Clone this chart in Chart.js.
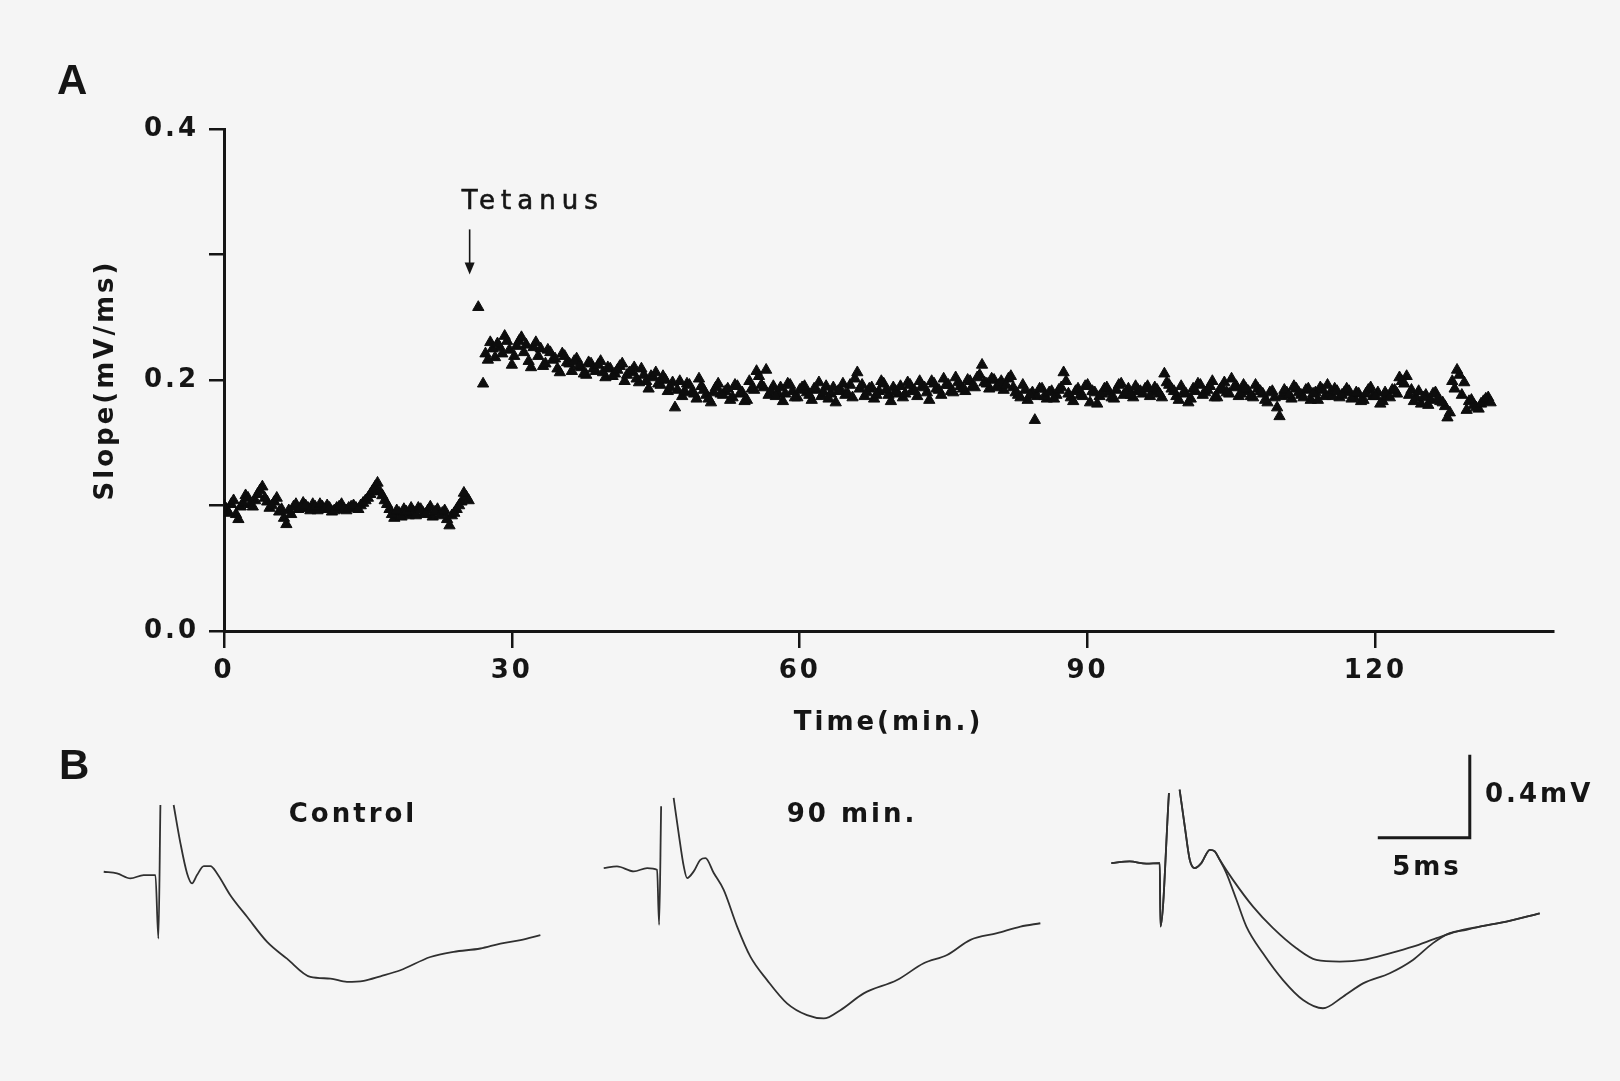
<!DOCTYPE html>
<html>
<head>
<meta charset="utf-8">
<script src="https://cdn.jsdelivr.net/npm/chart.js@4.4.0/dist/chart.umd.min.js"></script>
<style>
  html, body { margin: 0; padding: 0; background: #f5f5f5; }
  body { width: 1620px; height: 1081px; position: relative; overflow: hidden;
         font-family: 'DejaVu Sans', sans-serif; color: #151515; }
  canvas { position: absolute; }
  .lbl { position: absolute; font-weight: bold; font-size: 26px; letter-spacing: 3px;
         white-space: nowrap; line-height: 1; }
  .center { transform: translate(-50%, -50%); }
  .panel { font-family: 'Liberation Sans', sans-serif; font-size: 42px; letter-spacing: 0; }
</style>
</head>
<body>
<canvas id="slopeChart" width="1620" height="760" style="left:0;top:0"></canvas>
<canvas id="controlTrace" width="460" height="280" style="left:96px;top:761px"></canvas>
<canvas id="ninetyTrace" width="460" height="280" style="left:596px;top:754px"></canvas>
<canvas id="overlayTrace" width="460" height="280" style="left:1097px;top:749px"></canvas>

<div class="lbl panel" style="left:57px;top:59px">A</div>
<div class="lbl panel" style="left:59px;top:744px">B</div>
<div class="lbl center" style="left:353px;top:813px">Control</div>
<div class="lbl center" style="left:852px;top:813px">90 min.</div>
<div class="lbl" style="left:1485px;top:780px">0.4mV</div>
<div class="lbl center" style="left:1427px;top:866px">5ms</div>

<script>
// ---- panel A: fEPSP slope (mV/ms), samples every 0.25 min, kept as two interleaved runs ----
const sampleStepMin = 0.5;
const baselineStartMin = 0;
const baselineSlope = [
  0.100, 0.094, 0.104, 0.089, 0.102, 0.106, 0.099, 0.109, 0.115, 0.103,
  0.100, 0.106, 0.097, 0.085, 0.093, 0.101, 0.098, 0.100, 0.096, 0.099,
  0.101, 0.097, 0.098, 0.096, 0.099, 0.097, 0.098, 0.100, 0.097, 0.102,
  0.106, 0.112, 0.118, 0.108, 0.101, 0.093, 0.096, 0.091, 0.095, 0.098,
  0.092, 0.097, 0.093, 0.099, 0.095, 0.092, 0.096, 0.084, 0.094, 0.100,
  0.110, 0.104
];
const baselineStartMin2 = 0.25;
const baselineSlope2 = [
  0.097, 0.101, 0.093, 0.099, 0.108, 0.101, 0.104, 0.112, 0.106, 0.098,
  0.103, 0.095, 0.090, 0.096, 0.099, 0.097, 0.102, 0.098, 0.101, 0.096,
  0.099, 0.100, 0.095, 0.098, 0.101, 0.096, 0.099, 0.098, 0.100, 0.104,
  0.109, 0.115, 0.111, 0.104, 0.097, 0.090, 0.094, 0.097, 0.092, 0.095,
  0.098, 0.094, 0.096, 0.091, 0.097, 0.094, 0.089, 0.092, 0.097, 0.103,
  0.107
];
const postStartMin = 26.5;
const postSlope = [
  0.258, 0.197, 0.216, 0.225, 0.229, 0.221, 0.231, 0.212, 0.227, 0.234,
  0.228, 0.210, 0.230, 0.225, 0.213, 0.222, 0.217, 0.206, 0.219, 0.213,
  0.215, 0.211, 0.205, 0.214, 0.209, 0.212, 0.206, 0.210, 0.203, 0.208,
  0.213, 0.204, 0.207, 0.201, 0.209, 0.199, 0.203, 0.206, 0.196, 0.200,
  0.194, 0.178, 0.199, 0.191, 0.196, 0.189, 0.201, 0.192, 0.185, 0.190,
  0.197, 0.188, 0.193, 0.186, 0.195, 0.190, 0.184, 0.193, 0.207, 0.196,
  0.208, 0.191, 0.187, 0.194, 0.189, 0.196, 0.186, 0.192, 0.195, 0.188,
  0.193, 0.198, 0.190, 0.185, 0.194, 0.191, 0.197, 0.189, 0.186, 0.206,
  0.196, 0.190, 0.194, 0.188, 0.199, 0.192, 0.183, 0.191, 0.195, 0.189,
  0.196, 0.191, 0.199, 0.194, 0.184, 0.197, 0.192, 0.201, 0.196, 0.190,
  0.198, 0.193, 0.200, 0.195, 0.202, 0.212, 0.197, 0.201, 0.194, 0.199,
  0.196, 0.203, 0.190, 0.186, 0.192, 0.188, 0.168, 0.193, 0.187, 0.190,
  0.185, 0.192, 0.206, 0.189, 0.183, 0.193, 0.187, 0.196, 0.191, 0.181,
  0.189, 0.194, 0.186, 0.192, 0.197, 0.190, 0.188, 0.195, 0.191, 0.193,
  0.187, 0.194, 0.189, 0.205, 0.196, 0.191, 0.184, 0.190, 0.182, 0.193,
  0.197, 0.188, 0.192, 0.199, 0.186, 0.194, 0.190, 0.201, 0.195, 0.189,
  0.193, 0.187, 0.196, 0.191, 0.184, 0.190, 0.186, 0.171, 0.192, 0.188,
  0.195, 0.190, 0.186, 0.193, 0.189, 0.184, 0.192, 0.196, 0.187, 0.191,
  0.188, 0.193, 0.185, 0.190, 0.183, 0.189, 0.194, 0.187, 0.181, 0.190,
  0.186, 0.192, 0.202, 0.197, 0.188, 0.183, 0.191, 0.186, 0.180, 0.189,
  0.185, 0.182, 0.170, 0.199, 0.208, 0.188, 0.176, 0.184, 0.178, 0.181,
  0.185, 0.182
];
const postStartMin2 = 27.25;
const postSlope2 = [
  0.221, 0.230, 0.218, 0.226, 0.235, 0.224, 0.219, 0.231, 0.222, 0.215,
  0.226, 0.219, 0.211, 0.224, 0.216, 0.209, 0.221, 0.214, 0.207, 0.217,
  0.210, 0.204, 0.213, 0.207, 0.215, 0.202, 0.209, 0.205, 0.211, 0.199,
  0.206, 0.210, 0.198, 0.204, 0.193, 0.202, 0.197, 0.203, 0.191, 0.198,
  0.192, 0.187, 0.197, 0.190, 0.185, 0.195, 0.188, 0.182, 0.194, 0.189,
  0.191, 0.184, 0.196, 0.189, 0.183, 0.199, 0.192, 0.203, 0.194, 0.188,
  0.195, 0.189, 0.183, 0.197, 0.191, 0.186, 0.194, 0.190, 0.184, 0.192,
  0.187, 0.195, 0.189, 0.182, 0.192, 0.188, 0.196, 0.201, 0.193, 0.187,
  0.193, 0.185, 0.191, 0.197, 0.188, 0.194, 0.189, 0.186, 0.198, 0.192,
  0.187, 0.195, 0.190, 0.199, 0.193, 0.188, 0.196, 0.191, 0.202, 0.195,
  0.191, 0.199, 0.194, 0.204, 0.198, 0.193, 0.200, 0.196, 0.192, 0.201,
  0.194, 0.188, 0.196, 0.184, 0.190, 0.187, 0.193, 0.185, 0.191, 0.188,
  0.194, 0.199, 0.186, 0.191, 0.188, 0.195, 0.182, 0.190, 0.187, 0.193,
  0.190, 0.185, 0.196, 0.188, 0.193, 0.186, 0.192, 0.189, 0.195, 0.190,
  0.192, 0.186, 0.198, 0.193, 0.187, 0.195, 0.189, 0.185, 0.191, 0.196,
  0.190, 0.195, 0.186, 0.192, 0.198, 0.189, 0.194, 0.187, 0.196, 0.191,
  0.186, 0.193, 0.189, 0.182, 0.191, 0.178, 0.187, 0.190, 0.185, 0.193,
  0.188, 0.192, 0.184, 0.190, 0.194, 0.187, 0.189, 0.193, 0.186, 0.190,
  0.191, 0.186, 0.189, 0.184, 0.192, 0.187, 0.190, 0.183, 0.187, 0.192,
  0.189, 0.199, 0.203, 0.192, 0.186, 0.181, 0.188, 0.184, 0.190, 0.183,
  0.179, 0.174, 0.193, 0.204, 0.198, 0.183, 0.180, 0.177, 0.183, 0.186
];
const tetanusAtMin = 25.6;

const xTickValues = [0, 30, 60, 90, 120];
const xTickLabels = ['0', '30', '60', '90', '120'];
const yTickValues = [0, 0.1, 0.2, 0.3, 0.4];
const yTickLabels = ['0.0', '', '0.2', '', '0.4'];

// ---- panel B: field potentials (ms after stimulus, mV from baseline); null = pen off ----
const controlMs = [-3.08, -2.36, -1.63, -0.91, -0.27, -0.11, 0.00, 0.36, 0.72, 1.09, 1.45, 1.72, 1.99, 2.36, 2.72, 3.08,
  3.80, 4.71, 5.80, 6.88, 8.15, 9.24, 10.14, 11.05, 11.96, 13.04, 14.67, 15.94, 17.39, 18.48, 19.57, 20.65];
const controlMv = [0.016, 0.008, -0.016, 0.000, 0.000, -0.306, 0.338, null, 0.338, 0.153, 0.008, -0.040, 0.000, 0.043, 0.043, 0.008,
  -0.097, -0.201, -0.322, -0.403, -0.491, -0.499, -0.515, -0.510, -0.488, -0.459, -0.395, -0.370, -0.354, -0.330, -0.314, -0.290];

const ninetyMs = [-3.08, -2.36, -1.45, -0.72, -0.18, -0.07, 0.04, 0.38, 0.72, 0.99, 1.27, 1.45, 1.81, 2.17, 2.45, 2.90,
  3.44, 4.17, 4.89, 5.80, 6.88, 7.97, 8.88, 9.78, 11.05, 12.86, 14.31, 15.58, 16.85, 18.30, 19.57, 20.65];
const ninetyMv = [0.000, 0.008, -0.016, 0.000, -0.008, -0.274, 0.298, null, 0.338, 0.169, 0.008, -0.048, -0.016, 0.040, 0.048, -0.024,
  -0.105, -0.282, -0.427, -0.540, -0.652, -0.709, -0.725, -0.685, -0.604, -0.540, -0.459, -0.419, -0.346, -0.314, -0.282, -0.266];

const overlayCtrlMs = [-2.72, -1.72, -0.82, -0.09, -0.05, 0.41, 0.70, 0.99, 1.27, 1.54, 1.81, 2.17, 2.63, 2.90, 3.17,
  3.89, 4.98, 6.07, 7.34, 8.42, 9.69, 10.96, 12.41, 13.67, 14.95, 16.03, 17.30, 18.75, 20.56];
const overlayCtrlMv = [0.000, 0.008, -0.003, 0.000, -0.306, 0.338, null, 0.354, 0.177, 0.016, -0.024, 0.000, 0.064, 0.056, 0.016,
  -0.081, -0.210, -0.314, -0.411, -0.467, -0.475, -0.467, -0.435, -0.403, -0.362, -0.330, -0.306, -0.282, -0.242];
const overlayLtpMs = [-2.72, -1.72, -0.82, -0.09, -0.05, 0.41, 0.70, 0.99, 1.27, 1.54, 1.81, 2.17, 2.63, 2.90, 3.17,
  3.53, 4.08, 4.62, 5.52, 6.61, 7.70, 8.78, 9.87, 10.96, 12.41, 13.67, 14.76, 15.67, 16.58, 17.30, 18.75, 20.56];
const overlayLtpMv = [0.000, 0.008, -0.003, 0.000, -0.306, 0.338, null, 0.354, 0.177, 0.016, -0.024, 0.000, 0.064, 0.056, 0.016,
  -0.048, -0.177, -0.306, -0.435, -0.564, -0.660, -0.700, -0.644, -0.580, -0.531, -0.467, -0.386, -0.338, -0.322, -0.306, -0.282, -0.242];

// calibration bar: 5 ms by 0.4 mV
const scaleBarMs = [11.76, 16.76, 16.76];
const scaleBarMv = [0.122, 0.122, 0.522];

const ink = '#151515';
Chart.defaults.font.family = "'DejaVu Sans', sans-serif";
Chart.defaults.color = ink;

const pairs = (xs, ys) => xs.map((x, i) => ({ x: x, y: ys[i] }));
const sampled = (start, ys) => ys.map((y, i) => ({ x: start + i * sampleStepMin, y: y }));

// wide tracking like the original typesetting
const letterSpacing = {
  id: 'letterSpacing',
  beforeUpdate(chart) { chart.ctx.letterSpacing = '3px'; },
  beforeDraw(chart) { chart.ctx.letterSpacing = '3px'; }
};

const tetanusMarker = {
  id: 'tetanusMarker',
  afterDatasetsDraw(chart) {
    const { ctx, scales: { x, y } } = chart;
    const px = x.getPixelForValue(tetanusAtMin);
    const tip = y.getPixelForValue(0.284);
    ctx.save();
    ctx.letterSpacing = '6px';
    ctx.font = "26px 'DejaVu Sans'";
    ctx.fillStyle = ink;
    ctx.strokeStyle = ink;
    ctx.lineWidth = 0.6;
    ctx.textBaseline = 'middle';
    ctx.fillText('Tetanus', px - 8, y.getPixelForValue(0.342));
    ctx.strokeText('Tetanus', px - 8, y.getPixelForValue(0.342));
    ctx.lineWidth = 1.6;
    ctx.beginPath();
    ctx.moveTo(px, y.getPixelForValue(0.320));
    ctx.lineTo(px, tip - 8);
    ctx.stroke();
    ctx.beginPath();
    ctx.moveTo(px - 5, tip - 12);
    ctx.lineTo(px + 5, tip - 12);
    ctx.lineTo(px, tip);
    ctx.closePath();
    ctx.fill();
    ctx.restore();
  }
};

const triangleStyle = {
  pointStyle: 'triangle',
  pointRadius: 6.5,
  backgroundColor: '#0d0d0d',
  borderColor: '#0d0d0d',
  borderWidth: 1
};

new Chart(document.getElementById('slopeChart'), {
  type: 'scatter',
  data: {
    datasets: [
      Object.assign({ label: 'Baseline', data: sampled(baselineStartMin, baselineSlope) }, triangleStyle),
      Object.assign({ label: 'Baseline (b)', data: sampled(baselineStartMin2, baselineSlope2) }, triangleStyle),
      Object.assign({ label: 'After tetanus', data: sampled(postStartMin, postSlope) }, triangleStyle),
      Object.assign({ label: 'After tetanus (b)', data: sampled(postStartMin2, postSlope2) }, triangleStyle)
    ]
  },
  options: {
    responsive: false,
    animation: false,
    events: [],
    layout: { padding: { left: 80, top: 129, right: 67, bottom: 0 } },
    plugins: { legend: { display: false }, tooltip: { enabled: false } },
    scales: {
      x: {
        type: 'linear',
        min: 0,
        max: 138.5,
        afterBuildTicks: s => { s.ticks = xTickValues.map(v => ({ value: v })); },
        afterFit: s => { s.height = 129; },
        grid: { drawOnChartArea: false, drawTicks: true, tickLength: 17, color: ink, lineWidth: 2.5 },
        border: { display: true, color: ink, width: 3 },
        ticks: { padding: 8, maxRotation: 0, font: { size: 26, weight: 'bold' },
                 callback: (v, i) => xTickLabels[i] },
        title: { display: true, text: 'Time(min.)', font: { size: 26, weight: 'bold' },
                 padding: { top: 0, bottom: 21 } }
      },
      y: {
        min: 0,
        max: 0.4,
        afterBuildTicks: s => { s.ticks = yTickValues.map(v => ({ value: v })); },
        afterFit: s => { s.width = 144; },
        grid: { drawOnChartArea: false, drawTicks: true, tickLength: 15, color: ink, lineWidth: 2.5 },
        border: { display: true, color: ink, width: 3 },
        ticks: { padding: 10, font: { size: 26, weight: 'bold' },
                 callback: (v, i) => yTickLabels[i] },
        title: { display: true, text: 'Slope(mV/ms)', font: { size: 26, weight: 'bold' },
                 padding: { top: 11, bottom: 0 } }
      }
    }
  },
  plugins: [letterSpacing, tetanusMarker]
});

// ---- panel B ----
const traceLine = { showLine: true, pointRadius: 0, borderColor: '#303030', borderWidth: 1.8,
                    spanGaps: false, cubicInterpolationMode: 'monotone' };

function traceChart(id, datasets) {
  new Chart(document.getElementById(id), {
    type: 'scatter',
    data: { datasets: datasets },
    options: {
      responsive: false,
      animation: false,
      events: [],
      layout: { padding: 0 },
      plugins: { legend: { display: false }, tooltip: { enabled: false } },
      scales: {
        x: { type: 'linear', display: false, min: -3.5, max: 21.5 },
        y: { display: false, min: -0.8, max: 0.55 }
      }
    }
  });
}

traceChart('controlTrace', [
  Object.assign({ label: 'Control', data: pairs(controlMs, controlMv) }, traceLine)
]);
traceChart('ninetyTrace', [
  Object.assign({ label: '90 min.', data: pairs(ninetyMs, ninetyMv) }, traceLine)
]);
traceChart('overlayTrace', [
  Object.assign({ label: 'Control', data: pairs(overlayCtrlMs, overlayCtrlMv) }, traceLine),
  Object.assign({ label: '90 min.', data: pairs(overlayLtpMs, overlayLtpMv) }, traceLine),
  { label: 'Scale', data: pairs(scaleBarMs, scaleBarMv), showLine: true, pointRadius: 0,
    borderColor: '#1a1a1a', borderWidth: 3 }
]);
</script>
</body>
</html>
